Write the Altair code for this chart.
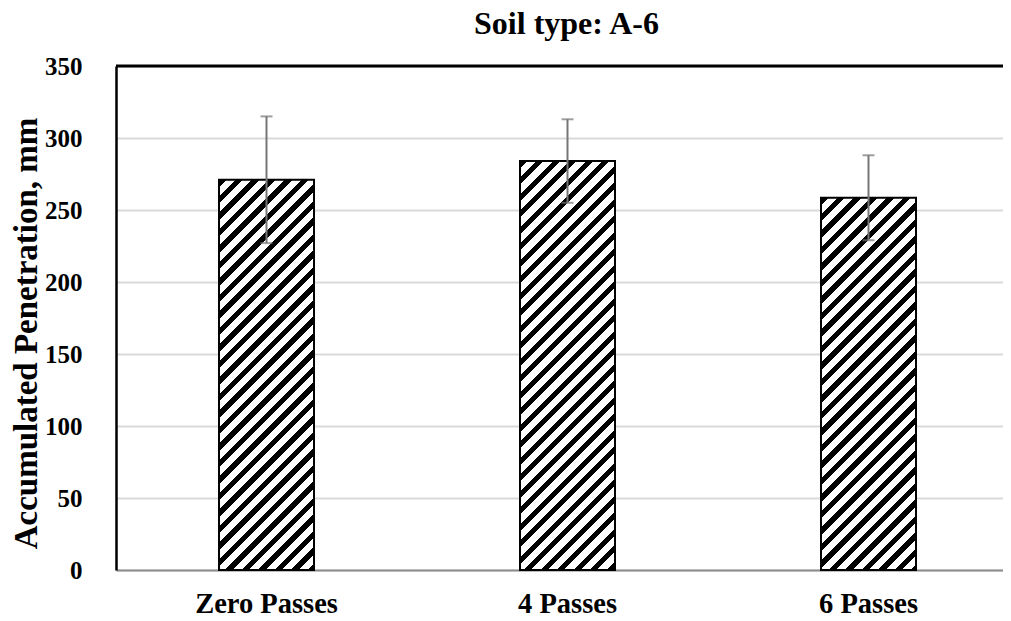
import math
import altair as alt
import pandas as pd

# ---- data ----
categories = ["Zero Passes", "4 Passes", "6 Passes"]
means = [271, 284, 258.5]
errors = [44, 29, 29.5]
y_ticks = [0, 50, 100, 150, 200, 250, 300, 350]
chart_title = "Soil type: A-6"
y_title = "Accumulated Penetration, mm"

df = pd.DataFrame({"cat": categories, "mean": means, "err": errors})
df["lo"] = df["mean"] - df["err"]
df["hi"] = df["mean"] + df["err"]
top_df = pd.DataFrame({"top": [max(y_ticks)]})

# ---- layout / style ----
W, H = 887, 504
Y_MAX = max(y_ticks)
BAR_W = 95
PERIOD = 16.5      # horizontal period of the hatch stripes (px)
BLACK = 0.44       # share of each period that is black
FONT = "Liberation Serif"


def hatch(value):
    """Diagonal '/' hatch as a hard-stop linear gradient in bbox units."""
    h = value / Y_MAX * H
    w = BAR_W
    n = math.ceil((w + h) / PERIOD) + 1
    k = n * PERIOD / (h + w * w / h)
    stops = []
    for i in range(n):
        a, b, c = i / n, (i + BLACK) / n, (i + 1) / n
        stops += [
            {"offset": a, "color": "black"},
            {"offset": b, "color": "black"},
            {"offset": b, "color": "white"},
            {"offset": c, "color": "white"},
        ]
    return {"gradient": "linear", "x1": 0, "y1": 0,
            "x2": k * w / h, "y2": k, "stops": stops}


x_enc = alt.X(
    "cat:N", sort=categories, title=None,
    scale=alt.Scale(range=[0, 903], paddingInner=0, paddingOuter=0),
    axis=alt.Axis(labelAngle=0, labelFont=FONT, labelFontWeight="bold",
                  labelFontSize=28.5, labelColor="black", labelBaseline="alphabetic",
                  labelPadding=42, ticks=False, tickSize=0, grid=False,
                  domainColor="#8c8c8c", domainWidth=2),
)
y_scale = alt.Scale(domain=[0, Y_MAX], nice=False)
y_axis = alt.Axis(values=y_ticks, title=y_title, grid=True, gridColor="#d9d9d9",
                  gridWidth=2, domainColor="black", domainWidth=2.5,
                  ticks=False, tickSize=0, labelFont=FONT, labelFontWeight="bold",
                  labelFontSize=25, labelColor="black", labelPadding=34,
                  titleFont=FONT, titleFontWeight="bold", titleFontSize=33,
                  titleColor="black", titleAngle=270, titleX=-90, titleY=267,
                  titleAlign="center", titleBaseline="middle")

base = alt.Chart(df)

bars = [
    base.transform_filter(alt.datum.cat == c)
    .mark_bar(size=BAR_W, fill=hatch(m), stroke="black", strokeWidth=2)
    .encode(x=x_enc, y=alt.Y("mean:Q", scale=y_scale, axis=y_axis))
    for c, m in zip(categories, means)
]

top_line = alt.Chart(top_df).mark_rule(color="black", strokeWidth=3).encode(
    y=alt.Y("top:Q", scale=y_scale, axis=y_axis)
)

err_rule = base.mark_rule(color="#767676", strokeWidth=2).encode(
    x=x_enc, y=alt.Y("lo:Q", scale=y_scale, axis=y_axis), y2="hi:Q"
)
cap_hi = base.mark_tick(color="#767676", size=12, thickness=2).encode(
    x=x_enc, y=alt.Y("hi:Q", scale=y_scale, axis=y_axis)
)
cap_lo = base.mark_tick(color="#767676", size=12, thickness=2).encode(
    x=x_enc, y=alt.Y("lo:Q", scale=y_scale, axis=y_axis)
)

chart = (
    alt.layer(*bars, top_line, err_rule, cap_hi, cap_lo)
    .properties(
        width=W, height=H,
        title=alt.TitleParams(chart_title, font=FONT, fontSize=32, fontWeight="bold",
                              color="black", anchor="middle", frame="group",
                              offset=13, dx=7),
        autosize=alt.AutoSizeParams(type="none"),
        padding={"left": 108, "top": 58, "right": 0, "bottom": 50},
    )
    .configure_view(stroke=None)
)

chart.save("out.html", embed_options={"renderer": "svg", "actions": False})
